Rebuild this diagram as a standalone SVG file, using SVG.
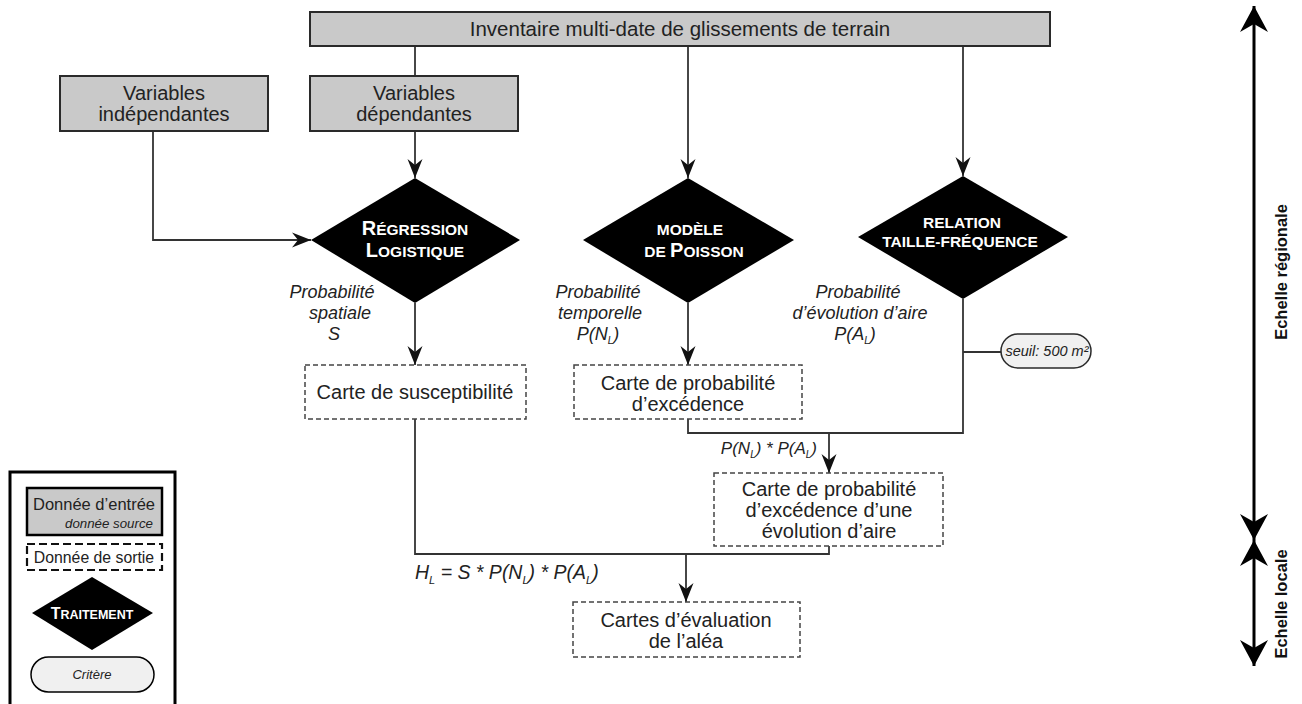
<svg xmlns="http://www.w3.org/2000/svg" width="1302" height="704" viewBox="0 0 1302 704">
  <style>
    text { font-family: "Liberation Sans", Arial, sans-serif; fill: #222; }
    .lbl { font-size: 20px; text-anchor: middle; }
    .it { font-style: italic; font-size: 18px; text-anchor: middle; }
    .proc { font-weight: bold; fill: #fff; text-anchor: middle; font-size: 15.5px; }
    .cap { font-size: 20px; }
    .input { fill: #c9c9c9; stroke: #2a2a2a; stroke-width: 2; }
    .output { fill: #fff; stroke: #444; stroke-width: 1.5; stroke-dasharray: 5 3; }
    .diamond { fill: #000; }
    .crit { fill: #f0f0f0; stroke: #2a2a2a; stroke-width: 1.5; }
    .edge { fill: none; stroke: #333; stroke-width: 1.8; }
    .scale { fill: none; stroke: #000; stroke-width: 3; }
    .axis { font-size: 16.5px; font-weight: bold; text-anchor: middle; fill: #111; }
  </style>
  <defs>
    <marker id="arr" viewBox="-20 -8 22 16" markerWidth="22" markerHeight="16" refX="0" refY="0" orient="auto" markerUnits="userSpaceOnUse">
      <path d="M0,0 L-19,-7.5 L-13,0 L-19,7.5 Z" fill="#111"/>
    </marker>
    <marker id="big" viewBox="-28 -16 30 32" markerWidth="30" markerHeight="32" refX="0" refY="0" orient="auto-start-reverse" markerUnits="userSpaceOnUse">
      <path d="M0,0 L-26,-14 L-18,0 L-26,14 Z" fill="#000"/>
    </marker>
  </defs>

  <!-- connectors -->
  <g id="connectors">
    <path class="edge" d="M415,46 V76"/>
    <path class="edge" d="M688,46 V178" marker-end="url(#arr)"/>
    <path class="edge" d="M963,46 V176" marker-end="url(#arr)"/>
    <path class="edge" d="M415,131 V178" marker-end="url(#arr)"/>
    <path class="edge" d="M153,131 V240 H311" marker-end="url(#arr)"/>
    <path class="edge" d="M415,303 V365" marker-end="url(#arr)"/>
    <path class="edge" d="M688,303 V365" marker-end="url(#arr)"/>
    <path class="edge" d="M963,299 V433 H688 V419"/>
    <path class="edge" d="M963,352 H1001"/>
    <path class="edge" d="M829,433 V473" marker-end="url(#arr)"/>
    <path class="edge" d="M415,419 V554 H829 V546"/>
    <path class="edge" d="M686,554 V602" marker-end="url(#arr)"/>
  </g>

  <!-- edge labels -->
  <g id="edge-labels">
    <text class="it"><tspan x="332" y="298">Probabilité</tspan><tspan x="340" y="319">spatiale</tspan><tspan x="334" y="340">S</tspan></text>
    <text class="it"><tspan x="598" y="298">Probabilité</tspan><tspan x="600" y="319">temporelle</tspan><tspan x="598" y="340">P(N<tspan font-size="10" dy="4">L</tspan><tspan dy="-4">)</tspan></tspan></text>
    <text class="it"><tspan x="858" y="298">Probabilité</tspan><tspan x="860" y="319">d’évolution d’aire</tspan><tspan x="855" y="340">P(A<tspan font-size="10" dy="4">L</tspan><tspan dy="-4">)</tspan></tspan></text>
    <text class="it" style="text-anchor:end;font-size:17px" x="817" y="454">P(N<tspan font-size="10" dy="4">L</tspan><tspan dy="-4">) * P(A</tspan><tspan font-size="10" dy="4">L</tspan><tspan dy="-4">)</tspan></text>
    <text class="it" style="text-anchor:start;font-size:19.5px" x="415" y="579">H<tspan font-size="11" dy="5">L</tspan><tspan dy="-5"> = S * P(N</tspan><tspan font-size="11" dy="5">L</tspan><tspan dy="-5">) * P(A</tspan><tspan font-size="11" dy="5">L</tspan><tspan dy="-5">)</tspan></text>
  </g>

  <!-- input data -->
  <g id="inventaire">
    <rect class="input" x="310" y="12" width="740" height="34"/>
    <text class="lbl" style="font-size:20.5px" x="680" y="36">Inventaire multi-date de glissements de terrain</text>
  </g>
  <g id="var-indep">
    <rect class="input" x="60" y="76" width="208" height="55"/>
    <text class="lbl"><tspan x="164" y="100">Variables</tspan><tspan x="164" y="121">indépendantes</tspan></text>
  </g>
  <g id="var-dep">
    <rect class="input" x="310" y="76" width="208" height="55"/>
    <text class="lbl"><tspan x="414" y="100">Variables</tspan><tspan x="414" y="121">dépendantes</tspan></text>
  </g>

  <!-- processing steps -->
  <g id="regression">
    <polygon class="diamond" points="415,178 520,240 415,303 311,240"/>
    <text class="proc"><tspan x="415" y="235"><tspan class="cap">R</tspan>ÉGRESSION</tspan><tspan x="415" y="257"><tspan class="cap">L</tspan>OGISTIQUE</tspan></text>
  </g>
  <g id="poisson">
    <polygon class="diamond" points="688,178 794,240 688,303 583,240"/>
    <text class="proc"><tspan x="690" y="235">MODÈLE</tspan><tspan x="694" y="257">DE <tspan class="cap">P</tspan>OISSON</tspan></text>
  </g>
  <g id="taille-frequence">
    <polygon class="diamond" points="963,176 1068,237 963,299 858,237"/>
    <text class="proc"><tspan x="962" y="228">RELATION</tspan><tspan x="960" y="247">TAILLE-FRÉQUENCE</tspan></text>
  </g>

  <!-- criterion -->
  <g id="seuil">
    <rect class="crit" x="1001" y="334" width="90" height="34" rx="17"/>
    <text class="it" style="font-size:14.5px" x="1047" y="356">seuil: 500 m²</text>
  </g>

  <!-- outputs -->
  <g id="susceptibilite">
    <rect class="output" x="305" y="365" width="221" height="54"/>
    <text class="lbl" x="415" y="399">Carte de susceptibilité</text>
  </g>
  <g id="excedence">
    <rect class="output" x="574" y="365" width="228" height="54"/>
    <text class="lbl"><tspan x="688" y="390">Carte de probabilité</tspan><tspan x="688" y="411">d’excédence</tspan></text>
  </g>
  <g id="excedence-aire">
    <rect class="output" x="714" y="473" width="229" height="73"/>
    <text class="lbl"><tspan x="829" y="496">Carte de probabilité</tspan><tspan x="829" y="517">d’excédence d’une</tspan><tspan x="829" y="538">évolution d’aire</tspan></text>
  </g>
  <g id="alea">
    <rect class="output" x="573" y="602" width="227" height="55"/>
    <text class="lbl"><tspan x="686" y="627">Cartes d’évaluation</tspan><tspan x="686" y="648">de l’aléa</tspan></text>
  </g>

  <!-- legend -->
  <g id="legend">
    <rect x="10" y="472" width="165" height="240" fill="#fff" stroke="#000" stroke-width="3"/>
    <rect x="27" y="488" width="135" height="47" fill="#c9c9c9" stroke="#000" stroke-width="2.5"/>
    <text style="font-size:16.5px;text-anchor:middle" x="94" y="510">Donnée d’entrée</text>
    <text style="font-size:13.3px;font-style:italic;text-anchor:end" x="153" y="528">donnée source</text>
    <rect x="27" y="544" width="135" height="26" fill="#fff" stroke="#111" stroke-width="2.2" stroke-dasharray="8 4"/>
    <text style="font-size:15.8px;text-anchor:middle" x="94" y="563">Donnée de sortie</text>
    <polygon points="92,577 153,613 92,650 32,613" fill="#000"/>
    <text class="proc" style="font-size:12.5px" x="92" y="619"><tspan style="font-size:16px">T</tspan>RAITEMENT</text>
    <rect x="31" y="657" width="123" height="35" rx="17.5" fill="#f0f0f0" stroke="#000" stroke-width="1.5"/>
    <text style="font-size:13px;font-style:italic;text-anchor:middle" x="92" y="679">Critère</text>
  </g>

  <!-- scale axis -->
  <g id="scale">
    <path class="scale" d="M1254,6 V540" marker-start="url(#big)" marker-end="url(#big)"/>
    <path class="scale" d="M1254,540 V666" marker-start="url(#big)" marker-end="url(#big)"/>
    <text class="axis" transform="translate(1287,272) rotate(-90)">Echelle régionale</text>
    <text class="axis" transform="translate(1287,604) rotate(-90)">Echelle locale</text>
  </g>
</svg>
